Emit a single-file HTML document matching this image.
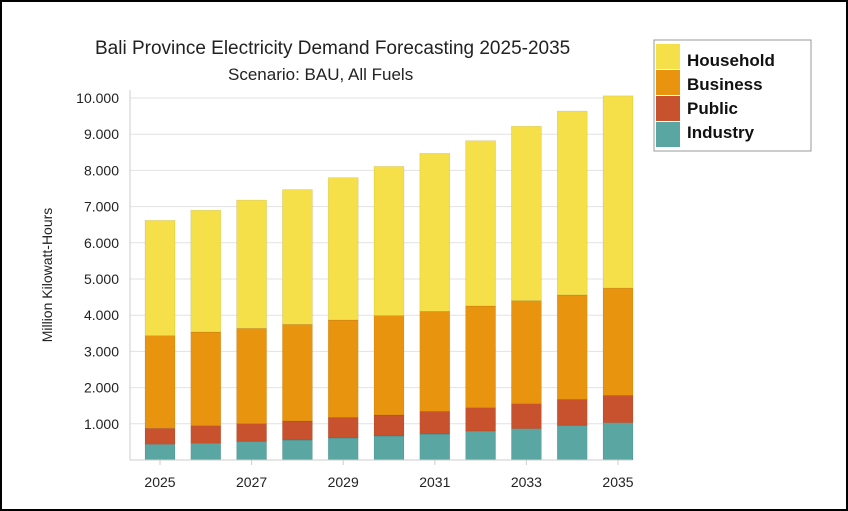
<!DOCTYPE html>
<html><head><meta charset="utf-8"><style>
body{margin:0;background:#fff;}
svg{display:block;font-family:"Liberation Sans","DejaVu Sans",sans-serif;}
</style></head><body>
<svg id="chart" width="848" height="511">
<rect x="1" y="1" width="846" height="509" fill="#fff" stroke="#000" stroke-width="2"/>
<text x="95" y="54" font-size="19" fill="#222">Bali Province Electricity Demand Forecasting 2025-2035</text>
<text x="228" y="80" font-size="17" fill="#222">Scenario: BAU, All Fuels</text>
<text transform="translate(52,275) rotate(-90)" text-anchor="middle" font-size="14" fill="#222">Million Kilowatt-Hours</text>
<g id="grid"></g><g id="bars"></g><g id="axes"></g>
<g>
<rect x="654" y="40" width="157" height="111" fill="#fff" stroke="#999"/>
<rect x="656" y="44" width="24" height="25" fill="#f5e04a"/>
<rect x="656" y="70" width="24" height="25" fill="#e8940e"/>
<rect x="656" y="96" width="24" height="25" fill="#c8522e"/>
<rect x="656" y="122" width="24" height="25" fill="#5aa6a2"/>
<text x="687" y="66" font-size="17" font-weight="bold" fill="#111">Household</text>
<text x="687" y="90" font-size="17" font-weight="bold" fill="#111">Business</text>
<text x="687" y="114" font-size="17" font-weight="bold" fill="#111">Public</text>
<text x="687" y="138" font-size="17" font-weight="bold" fill="#111">Industry</text>
</g>
</svg>
<script>
const years=[2025,2026,2027,2028,2029,2030,2031,2032,2033,2034,2035];
const industry=[434,461,506,552,608,663,718,801,865,948,1030];
const pub=[442,487,497,525,572,580,627,644,690,729,757];
const business=[2558,2588,2634,2671,2687,2744,2762,2809,2846,2883,2963];
const household=[3186,3364,3543,3722,3933,4123,4363,4566,4819,5080,5310];
const yTicks=[1000,2000,3000,4000,5000,6000,7000,8000,9000,10000];
const yTickLabels=["1.000","2.000","3.000","4.000","5.000","6.000","7.000","8.000","9.000","10.000"];
const xLabelYears=[2025,2027,2029,2031,2033,2035];
const NS="http://www.w3.org/2000/svg";
const y0=460,pxPer=36.2/1000;
function yS(v){return y0-v*pxPer;}
function xS(yr){return 160+(yr-2025)*45.8;}
const bw=30;
function mk(tag,attrs,parent){const e=document.createElementNS(NS,tag);for(const k in attrs)e.setAttribute(k,attrs[k]);parent.appendChild(e);return e;}
const grid=document.getElementById('grid'),bars=document.getElementById('bars'),axes=document.getElementById('axes');
yTicks.forEach((t,i)=>{
 const l=mk('line',{x1:130,x2:632,y1:yS(t),y2:yS(t),stroke:'#e2e2e2'},grid);
 
 
 const tx=mk('text',{x:119,y:yS(t)+5,'text-anchor':'end','font-size':14,fill:'#222'},axes);
 tx.textContent=yTickLabels[i];
 
 
});
const series=[[industry,'#5aa6a2','industry'],[pub,'#c8522e','public'],[business,'#e8940e','business'],[household,'#f5e04a','household']];
years.forEach((yr,i)=>{
 let base=0;
 series.forEach(([arr,col,nm])=>{
  const top=base+arr[i];
  const r=mk('rect',{x:xS(yr)-bw/2,y:yS(top),width:bw,height:yS(base)-yS(top),fill:col,stroke:'rgba(0,0,0,0.12)','stroke-width':0.6},bars);
  
  
  base=top;
 });
});
const ax=mk('line',{x1:130,x2:632,y1:y0,y2:y0,stroke:'#ccc'},axes);


const ay=mk('line',{x1:130,x2:130,y1:90,y2:y0,stroke:'#ccc'},axes);


xLabelYears.forEach(yr=>{
 const tk=mk('line',{x1:xS(yr),x2:xS(yr),y1:y0,y2:y0+5,stroke:'#ccc'},axes);
 
 
 const t=mk('text',{x:xS(yr),y:487,'text-anchor':'middle','font-size':14,fill:'#222'},axes);
 t.textContent=yr;
 
 
});
</script>
</body></html>
